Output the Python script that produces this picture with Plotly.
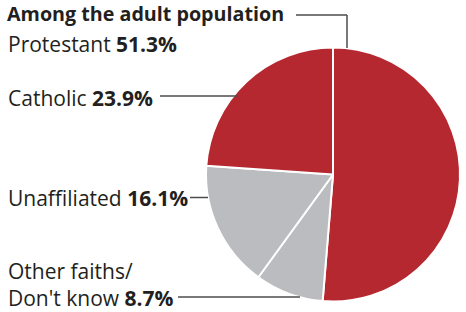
import plotly.graph_objects as go

labels = ["Protestant", "Other faiths/<br>Don't know", "Unaffiliated", "Catholic"]
values = [51.3, 8.7, 16.1, 23.9]
colors = ["#B5282F", "#BBBCBF", "#BBBCBF", "#B5282F"]
title_text = "Among the adult population"

W, H = 466, 312
def px(x):
    return x / W
def py(y):
    return 1 - y / H

cx, cy, r = 333, 174.5, 127

fig = go.Figure(go.Pie(
    labels=labels, values=values, sort=False, direction="clockwise", rotation=0,
    marker=dict(colors=colors, line=dict(color="white", width=2)),
    textinfo="none", hoverinfo="label+value", showlegend=False,
    domain=dict(x=[px(cx - r), px(cx + r)], y=[py(cy + r), py(cy - r)]),
))

font_family = "Open Sans, Roboto, Liberation Sans, Arial, sans-serif"
tc = "#231F20"
fs = 21

def ann(x, y, text, size=fs, pad=1):
    return dict(x=px(x), y=py(y), xref="paper", yref="paper", text=text,
                showarrow=False, xanchor="left", yanchor="middle", align="left",
                borderpad=pad,
                font=dict(family=font_family, size=size, color=tc))

annotations = [
    ann(6, 13.5, "<b>" + title_text + "</b>", size=19.7, pad=0),
    ann(6, 44.5, f"{labels[0]} <b>{values[0]}%</b>"),
    ann(6, 97.5, f"{labels[3]} <b>{values[3]}%</b>"),
    ann(6, 197.5, f"{labels[2]} <b>{values[2]}%</b>"),
    ann(6, 284.5, f"{labels[1]} <b>{values[1]}%</b>"),
]

lc = "#4D4D4D"
def seg(x0, y0, x1, y1):
    return dict(type="line", xref="paper", yref="paper",
                x0=px(x0), y0=py(y0), x1=px(x1), y1=py(y1),
                line=dict(color=lc, width=1.5))

shapes = [
    seg(296, 15, 347, 15), seg(347, 15, 347, 48),
    seg(160, 96, 238, 96),
    seg(190, 197.5, 208, 197.5),
    seg(178, 297, 300, 297),
]

fig.update_layout(width=W, height=H, margin=dict(l=0, r=0, t=0, b=0),
                  paper_bgcolor="white", plot_bgcolor="white",
                  annotations=annotations, shapes=shapes)
fig.write_html("out.html", config={"displayModeBar": False},
               post_script="document.body.style.margin='0';")
